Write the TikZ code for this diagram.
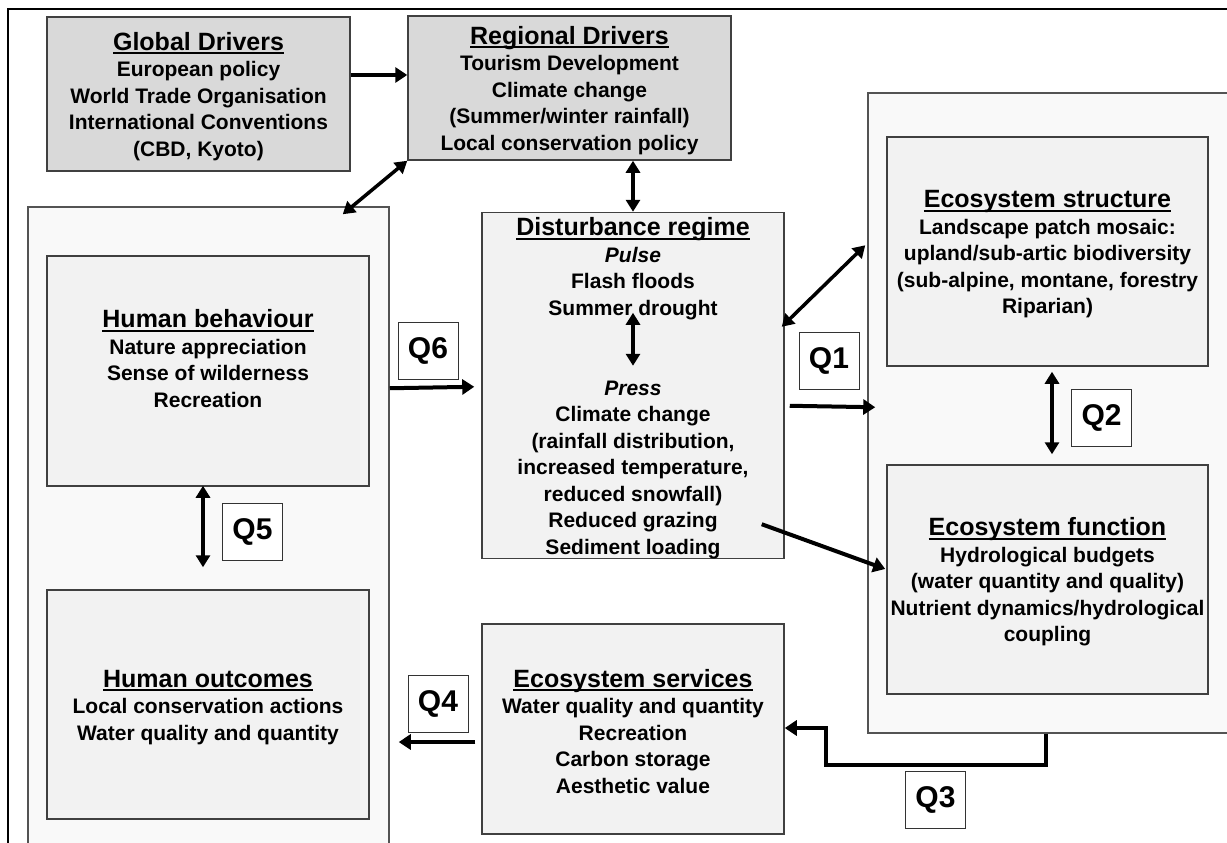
\documentclass[tikz,border=0pt]{standalone}
\usepackage{fontspec}
\setmainfont{Liberation Sans}
\usetikzlibrary{arrows.meta,calc}

\definecolor{drvfill}{HTML}{D9D9D9}
\definecolor{boxfill}{HTML}{F2F2F2}
\definecolor{grpfill}{HTML}{F9F9F9}
\definecolor{edgegray}{HTML}{404040}

\newcommand\bodyfont{\bfseries\fontsize{21}{26.5}\selectfont}
\newcommand\ttlfont{\fontsize{25}{30}\selectfont}
\newsavebox\ulbox
% underlined heading, rule set just below the baseline
\newcommand\ttl[1]{{\ttlfont\rule{0pt}{23pt}\sbox\ulbox{#1}\rlap{\rule[-4pt]{\wd\ulbox}{2pt}}\usebox\ulbox}}

\tikzset{
  panel/.style={draw=edgegray, line width=1.5pt, fill=boxfill, inner sep=0pt,
                align=center, font=\bodyfont},
  driver/.style={panel, fill=drvfill},
  group/.style={draw=edgegray!90, line width=1.5pt, fill=grpfill, inner sep=0pt},
  qbox/.style={draw=black!80, line width=1pt, fill=white, inner sep=0pt,
               minimum width=60pt, minimum height=57pt,
               font=\bfseries\fontsize{30}{30}\selectfont},
  txt/.style={align=center, font=\bodyfont, inner sep=0pt},
  arr/.style={line width=4pt, -{Triangle[length=12pt,width=15pt]}},
  dbl/.style={line width=3.5pt, {Triangle[length=12pt,width=14pt]}-{Triangle[length=12pt,width=14pt]}},
}

\begin{document}
\begin{tikzpicture}[x=1pt, y=-1pt]
\clip (0,0) rectangle (1227,843);
\fill[white] (0,0) rectangle (1227,843);

% outer frame (left and top sides)
\draw[line width=2pt] (8,843) -- (8,9) -- (1227,9);

% drivers
\node[driver, minimum width=303pt, minimum height=154pt] (glob) at (198.5,94)
  {\ttl{Global Drivers}\\European policy\\World Trade Organisation\\International Conventions\\(CBD, Kyoto)};
\node[driver, minimum width=323pt, minimum height=144pt] (reg) at (569.5,88)
  {\ttl{Regional Drivers}\\Tourism Development\\Climate change\\(Summer/winter rainfall)\\Local conservation policy};

% human group
\node[group, minimum width=361pt, minimum height=660pt] (hc) at (208.5,537) {};
\node[panel, minimum width=322pt, minimum height=230pt] (hb) at (208,371) {};
\node[txt] (hbtext) at ($(hb.center)+(0,-15)$)
  {\ttl{Human behaviour}\\Nature appreciation\\Sense of wilderness\\Recreation};
\node[panel, minimum width=322pt, minimum height=229pt] (ho) at (208,704.5)
  {\ttl{Human outcomes}\\Local conservation actions\\Water quality and quantity};

% disturbance regime
\node[panel, minimum width=302pt, minimum height=343pt] (dist) at (633,385.5)
  {\ttl{Disturbance regime}\\\itshape Pulse\\Flash floods\\Summer drought\\[53.5pt]
   \itshape Press\\Climate change\\(rainfall distribution,\\increased temperature,\\reduced snowfall)\\Reduced grazing\\Sediment loading};

% ecosystem group
\node[group, minimum width=372pt, minimum height=640pt] (ec) at (1054,413) {};
\node[panel, minimum width=321pt, minimum height=229pt] (es) at (1047.5,251.5)
  {\ttl{Ecosystem structure}\\Landscape patch mosaic:\\upland/sub-artic biodiversity\\(sub-alpine, montane, forestry\\Riparian)};
\node[panel, minimum width=321pt, minimum height=229pt] (ef) at (1047.5,579.5)
  {\ttl{Ecosystem function}\\Hydrological budgets\\(water quantity and quality)\\Nutrient dynamics/hydrological\\coupling};

% ecosystem services
\node[panel, minimum width=302pt, minimum height=210pt] (sv) at (633,729)
  {\ttl{Ecosystem services}\\Water quality and quantity\\Recreation\\Carbon storage\\Aesthetic value};

% question labels
\node[qbox] (q6) at (428,350.5) {Q6};
\node[qbox] (q5) at (252.5,532) {Q5};
\node[qbox] (q4) at (438,703.5) {Q4};
\node[qbox] (q1) at (829,360.5) {Q1};
\node[qbox] (q2) at (1101.5,417.5) {Q2};
\node[qbox] (q3) at (935.5,799.5) {Q3};

% connectors
\draw[arr] ($(glob.east)+(0,-19)$) -- ($(reg.west)+(0,-13)$);
\draw[dbl] (reg.south west) -- ($(hc.north east)+(-47,8)$);
\draw[dbl] (dist.north |- reg.south) -- (dist.north);
\draw[dbl] ($(dist.north)+(0,101)$) -- ($(dist.north)+(0,154)$);
\draw[arr] ($(hc.north east)+(0,182)$) -- ($(dist.north west)+(-7,175)$);
\draw[dbl] ($(dist.north east)+(-3,115)$) -- ($(ec.north west)+(-2,153)$);
\draw[arr] ($(dist.north east)+(5,194)$) -- ($(ec.north west)+(8,315)$);
\draw[arr] ($(dist.south east)+(-23,-35)$) -- ($(ef.west)+(-1,-10.5)$);
\draw[dbl] ($(es.south)+(4.5,5)$) -- ($(ef.north)+(4.5,-10)$);
\draw[arr, line join=miter] ($(ec.south west)+(179,0)$) |- ($(sv.east)+(41,36)$) |- ($(sv.east)+(0,-1)$);
\draw[arr] ($(sv.west)+(-6,13)$) -- ($(hc.east)+(9,205)$);
\draw[dbl] ($(hb.south)+(-5,-1)$) -- ($(ho.north)+(-5,-22)$);
\end{tikzpicture}
\end{document}
